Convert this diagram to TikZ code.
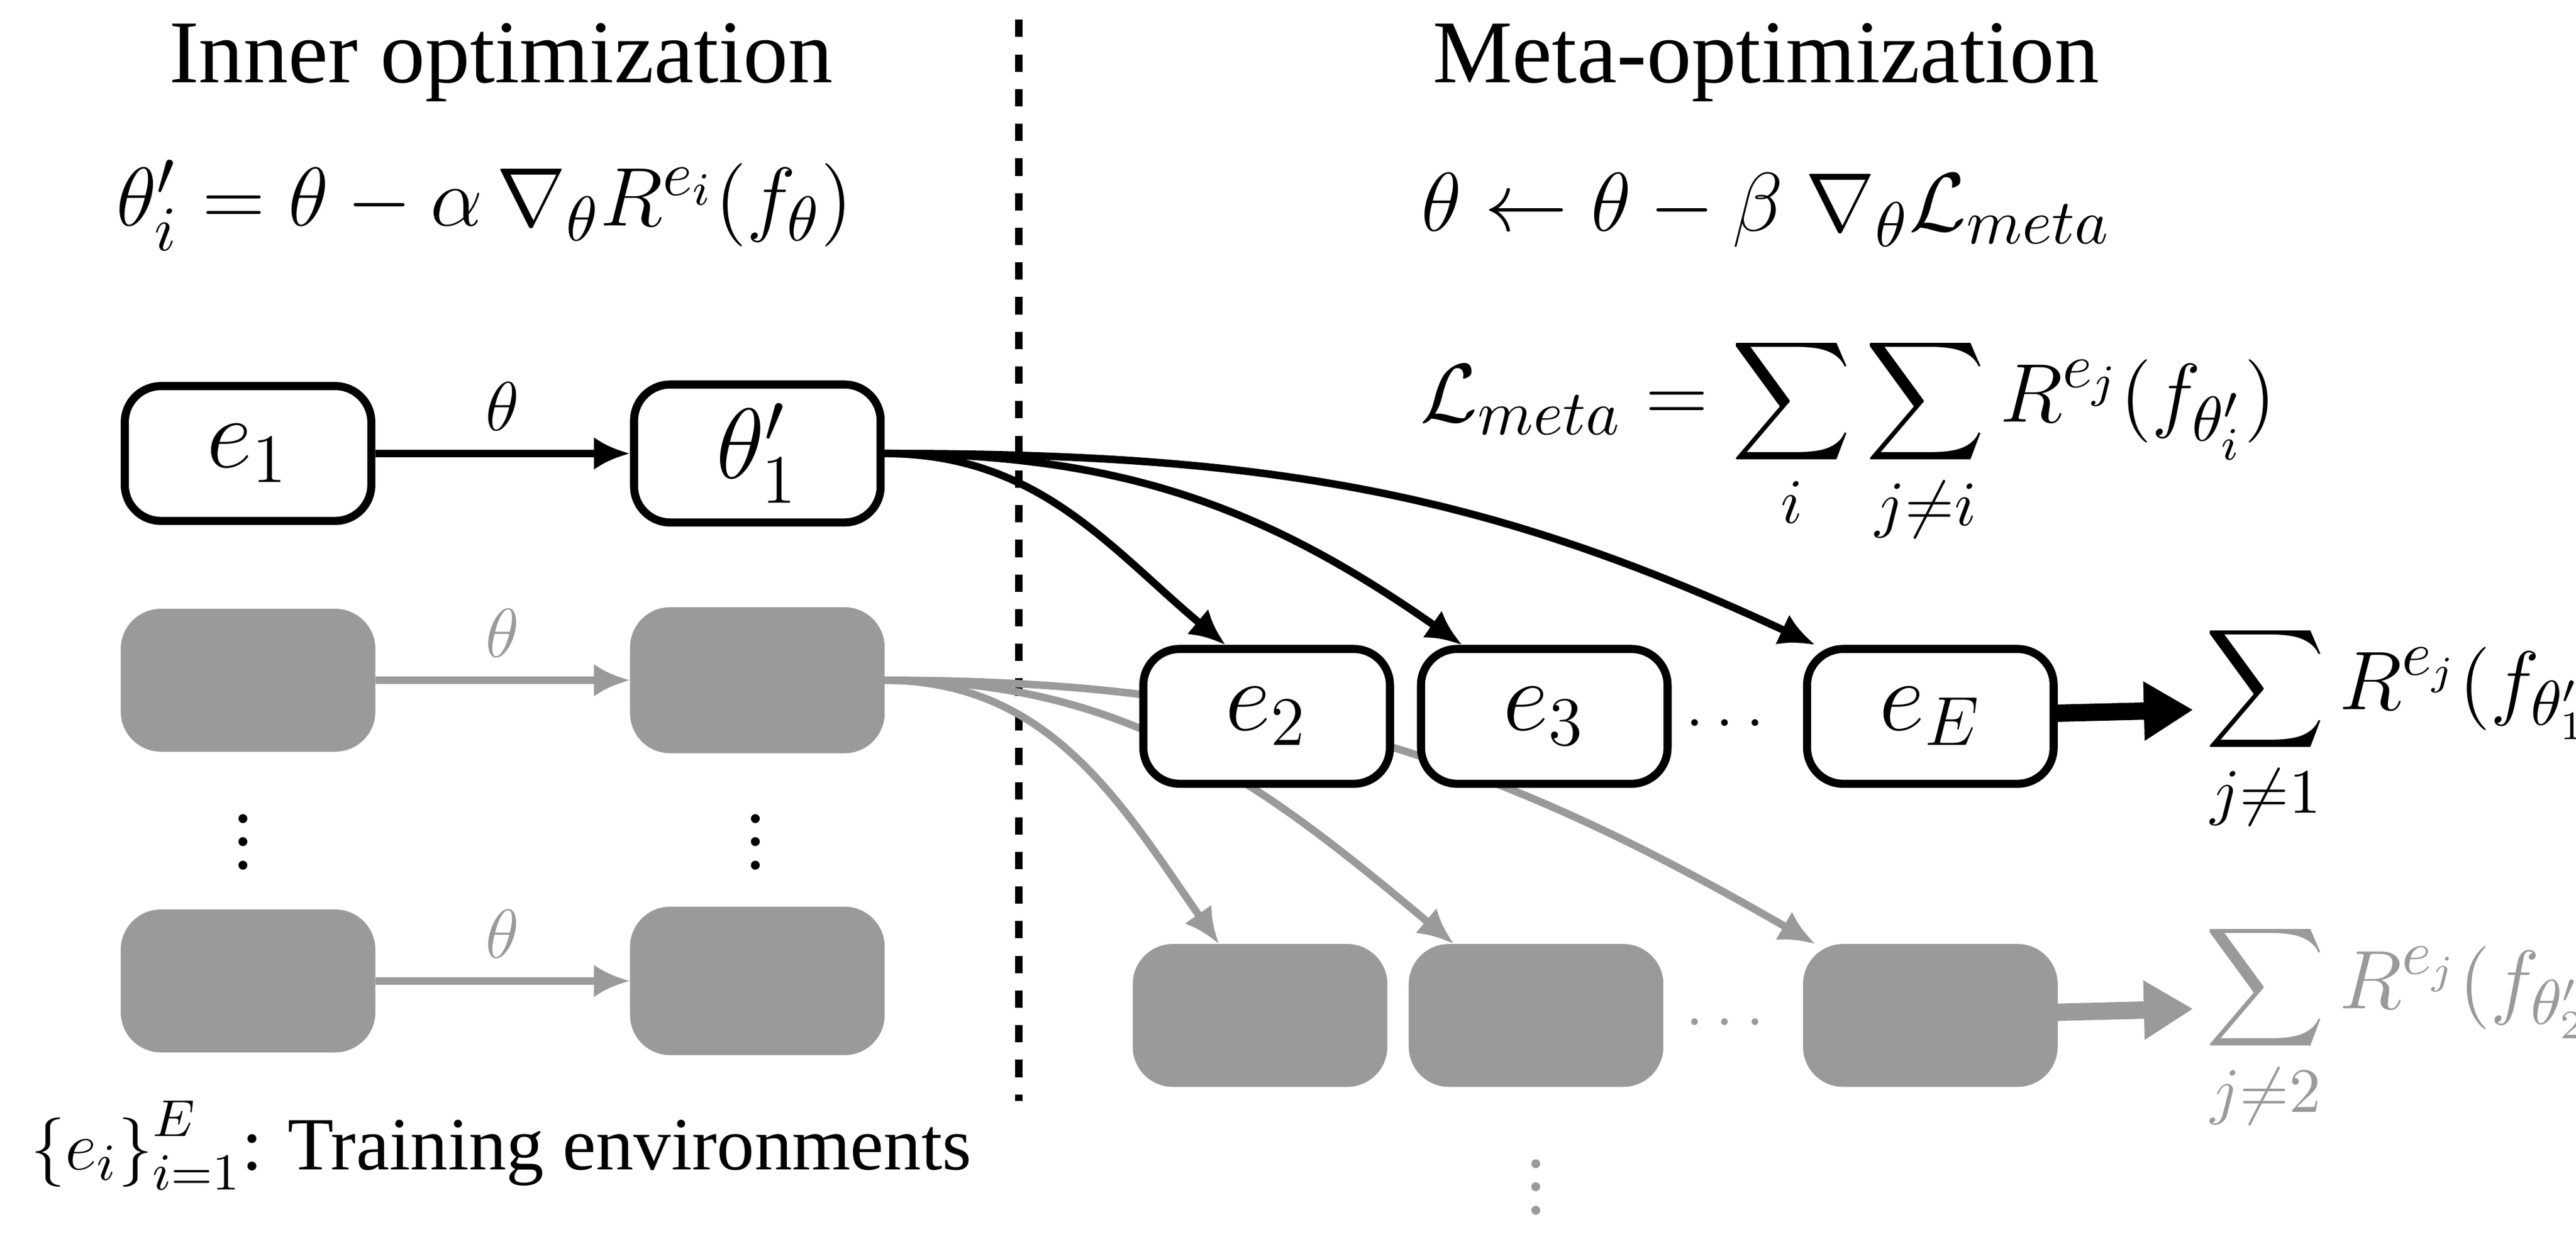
\documentclass[tikz,border=0pt]{standalone}
\usepackage{fontspec}
\setmainfont{Liberation Serif}
\usepackage{amsmath}
\usetikzlibrary{arrows.meta}
\definecolor{faded}{HTML}{9A9A9A}
\tikzset{
	env/.style = {draw, fill = white, rounded corners = 0.22cm, line width = 1.4pt, minimum width = 1.5cm, minimum height = 0.82cm, font = \fontsize{17}{20}\selectfont},
	flow/.style = {-{Latex[length = 0.22cm, width = 0.2cm]}, line width = 1.3pt},
	big/.style = {font = \fontsize{15.5}{18}\selectfont},
	mid/.style = {font = \fontsize{13}{15}\selectfont},
	sumtext/.style = {font = \fontsize{15}{18}\selectfont},
}

\begin{document}
\begin{tikzpicture}[x = 0.01cm, y = -0.01cm]%

		\useasboundingbox (0, 0) rectangle (1568, 754);

		% titles
		\node[big] (innerTitle) at (305, 38) {Inner optimization};
		\node[big] (metaTitle) at (1075, 38) {Meta-optimization};
		\node[big] (innerRule) at (295, 125) {$\theta_i' = \theta - \alpha\,\nabla_\theta R^{e_i}(f_\theta)$};
		\node[big] (metaRule) at (1075, 128) {$\theta \leftarrow \theta - \beta\ \nabla_\theta \mathcal{L}_{meta}$};
		\node[big] (metaLoss) at (1125, 268) {$\mathcal{L}_{meta} = \displaystyle\sum_i \sum_{j\neq i} R^{e_j}(f_{\theta_i'})$};

		\draw[dashed, line width = 1.3pt] (620, 12) -- (620, 670);

		% inner loop
		\node[env] (e1) at (151, 276) {$e_1$};
		\node[env] (t1) at (461, 276) {$\theta_1'$};
		\node[env, faded] (e2) at (151, 414) {$e_2$};
		\node[env, faded] (t2) at (461, 414) {$\theta_2'$};
		\node[env, faded] (eE) at (151, 597) {$e_E$};
		\node[env, faded] (tE) at (461, 597) {$\theta_E'$};
		\node[mid] (vdotsA) at (148, 502) {$\vdots$};
		\node[mid] (vdotsB) at (460, 502) {$\vdots$};
		\draw[flow] (e1) -- node[above, mid] {$\theta$} (t1);
		\draw[flow, faded] (e2) -- node[above, mid] {$\theta$} (t2);
		\draw[flow, faded] (eE) -- node[above, mid] {$\theta$} (tE);

		% meta, second task (behind the first)
		\node[env, faded] (mB1) at (767, 618) {$e_1$};
		\node[env, faded] (mB3) at (935, 618) {$e_3$};
		\node[env, faded] (mBE) at (1175, 618) {$e_E$};
		\node[mid, faded] (dotsB) at (1050, 622) {$\ldots$};
		\node[sumtext, anchor = west, faded] (sumB) at (1330, 625) {$\displaystyle\sum_{j\neq 2} R^{e_j}(f_{\theta_2'})$};
		\draw[-{Triangle[length = 0.3cm, width = 0.34cm]}, line width = 3pt, faded] (mBE) -- (1335, 614);
		\draw[flow, faded] (t2.east) to[out = 0, in = 125] ([xshift = -0.25cm]mB1.north);
		\draw[flow, faded] (t2.east) to[out = 0, in = 140] ([xshift = -0.5cm]mB3.north);
		\draw[flow, faded] (t2.east) to[out = 0, in = 150] ([xshift = -0.7cm]mBE.north);
		\node[mid, faded] (vdotsC) at (935, 712) {$\vdots$};

		% meta, first task
		\node[env] (mA2) at (771, 436) {$e_2$};
		\node[env] (mA3) at (940, 436) {$e_3$};
		\node[env] (mAE) at (1175, 436) {$e_E$};
		\node[mid] (dotsA) at (1050, 440) {$\ldots$};
		\node[sumtext, anchor = west] (sumA) at (1330, 443) {$\displaystyle\sum_{j\neq 1} R^{e_j}(f_{\theta_1'})$};
		\draw[-{Triangle[length = 0.3cm, width = 0.34cm]}, line width = 3pt] (mAE) -- (1335, 432);
		\draw[flow] (t1.east) to[out = 0, in = 140] ([xshift = -0.25cm]mA2.north);
		\draw[flow] (t1.east) to[out = 0, in = 145] ([xshift = -0.5cm]mA3.north);
		\draw[flow] (t1.east) to[out = 0, in = 155] ([xshift = -0.7cm]mAE.north);

		\node[mid] (legend) at (305, 697) {$\left\{e_i\right\}_{i=1}^{E}$: Training environments};

	\end{tikzpicture}
\end{document}
